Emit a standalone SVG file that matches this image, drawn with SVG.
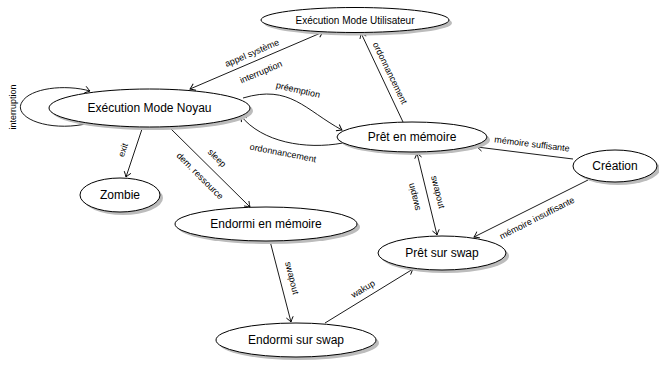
<svg xmlns="http://www.w3.org/2000/svg" width="659" height="365" viewBox="0 0 659 365">
<style>
.node ellipse.sh{fill:#bcbcbc;stroke:none}
.node ellipse.fg{fill:#fff;stroke:#000;stroke-width:1}
.node text{font-family:"Liberation Sans",Arial,sans-serif;font-size:12px;fill:#000;text-anchor:middle;dominant-baseline:central}
.edges path{fill:none;stroke:#000;stroke-width:0.9}
.lbl{font-family:"Liberation Sans",Arial,sans-serif;font-size:9px;fill:#000;text-anchor:middle;dominant-baseline:central}
</style>
<defs>
<marker id="arr" markerUnits="userSpaceOnUse" viewBox="-6 -5 8 10" refX="0" refY="0" markerWidth="8" markerHeight="10" orient="auto-start-reverse">
<path d="M -5 -3.5 Q -1.5 -0.8 0 0 Q -1.5 0.8 -5 3.5" fill="none" stroke="#000" stroke-width="0.9"/>
</marker>
</defs>
<rect width="659" height="365" fill="#fff"/>
<g class="edges">
<path d="M 190 89 L 323 32" marker-start="url(#arr)" marker-end="url(#arr)"/>
<path d="M 90 123 C 50 133 12 118 22 102 C 30 88 65 84 90 91" marker-end="url(#arr)"/>
<path d="M 243 98 C 290 84 305 110 342 130" marker-end="url(#arr)"/>
<path d="M 343 143 C 305 150 262 142 241 116" marker-end="url(#arr)"/>
<path d="M 143 126 L 126 177" marker-end="url(#arr)"/>
<path d="M 168 126 L 250 207" marker-end="url(#arr)"/>
<path d="M 403 122 L 361 33" marker-end="url(#arr)"/>
<path d="M 573 159 L 477 147" marker-end="url(#arr)"/>
<path d="M 417 153 L 437 235" marker-start="url(#arr)" marker-end="url(#arr)"/>
<path d="M 588 180 L 474 237" marker-end="url(#arr)"/>
<path d="M 270 241 L 291 322" marker-end="url(#arr)"/>
<path d="M 325 323 L 413 269" marker-end="url(#arr)"/>
</g>
<g id="labels">
<text class="lbl" transform="translate(252 53) rotate(-23)">appel système</text>
<text class="lbl" transform="translate(261 72) rotate(-23)">interruption</text>
<text class="lbl" transform="translate(13 107) rotate(-90)">interruption</text>
<text class="lbl" transform="translate(298 90) rotate(13)">préemption</text>
<text class="lbl" transform="translate(283 153) rotate(11)">ordonnancement</text>
<text class="lbl" transform="translate(390 73) rotate(64)">ordonnancement</text>
<text class="lbl" transform="translate(123 150) rotate(-72)">exit</text>
<text class="lbl" transform="translate(217 158) rotate(45)">sleep</text>
<text class="lbl" transform="translate(200 176) rotate(45)">dem. ressource</text>
<text class="lbl" transform="translate(532 144) rotate(7)">mémoire suffisante</text>
<text class="lbl" transform="translate(537 218) rotate(-27)">mémoire insuffisante</text>
<text class="lbl" transform="translate(438 192) rotate(76)">swapout</text>
<text class="lbl" transform="translate(414 197) rotate(-104)">swapin</text>
<text class="lbl" transform="translate(292 278) rotate(76)">swapout</text>
<text class="lbl" transform="translate(363 289) rotate(-31)">wakup</text>
</g>
<g id="utilisateur" class="node">
<ellipse class="sh" cx="358" cy="23" rx="94" ry="12.5"/>
<ellipse class="fg" cx="355" cy="20" rx="94" ry="12.5"/>
<text x="355" y="20" style="font-size:10px">Exécution Mode Utilisateur</text>
</g>
<g id="noyau" class="node">
<ellipse class="sh" cx="152.5" cy="111" rx="100.5" ry="19"/>
<ellipse class="fg" cx="149.5" cy="108" rx="100.5" ry="19"/>
<text x="149.5" y="108">Exécution Mode Noyau</text>
</g>
<g id="pret-memoire" class="node">
<ellipse class="sh" cx="415" cy="140" rx="75" ry="15"/>
<ellipse class="fg" cx="412" cy="137" rx="75" ry="15"/>
<text x="412" y="137">Prêt en mémoire</text>
</g>
<g id="creation" class="node">
<ellipse class="sh" cx="618" cy="169" rx="42" ry="16"/>
<ellipse class="fg" cx="615" cy="166" rx="42" ry="16"/>
<text x="615" y="166">Création</text>
</g>
<g id="zombie" class="node">
<ellipse class="sh" cx="123" cy="198" rx="40" ry="17"/>
<ellipse class="fg" cx="120" cy="195" rx="40" ry="17"/>
<text x="120" y="195">Zombie</text>
</g>
<g id="endormi-memoire" class="node">
<ellipse class="sh" cx="269" cy="227" rx="91" ry="17"/>
<ellipse class="fg" cx="266" cy="224" rx="91" ry="17"/>
<text x="266" y="224">Endormi en mémoire</text>
</g>
<g id="pret-swap" class="node">
<ellipse class="sh" cx="445" cy="256" rx="64" ry="17"/>
<ellipse class="fg" cx="442" cy="253" rx="64" ry="17"/>
<text x="442" y="253">Prêt sur swap</text>
</g>
<g id="endormi-swap" class="node">
<ellipse class="sh" cx="299" cy="343" rx="80" ry="17"/>
<ellipse class="fg" cx="296" cy="340" rx="80" ry="17"/>
<text x="296" y="340">Endormi sur swap</text>
</g>
</svg>
